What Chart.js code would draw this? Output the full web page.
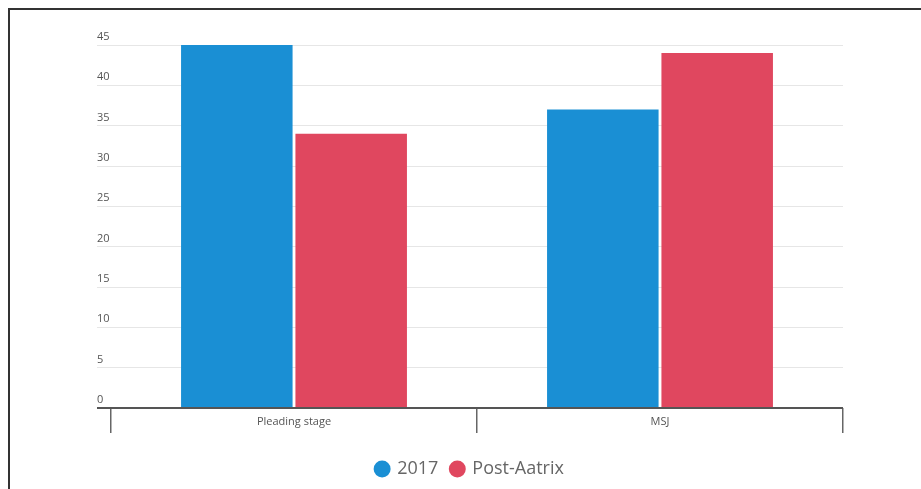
<!DOCTYPE html>
<html>
<head>
<meta charset="utf-8">
<script src="https://cdn.jsdelivr.net/npm/chart.js@4"></script>
<style>
  html, body { margin: 0; padding: 0; background: #fff; }
  #frame {
    position: absolute; left: 8px; top: 8px; width: 913px; height: 481px;
    border-top: 2px solid #333; border-left: 2px solid #333; box-sizing: border-box;
  }
  #wrap { position: absolute; left: 0; top: 0; width: 921px; height: 489px; }
</style>
</head>
<body>
<div id="frame"></div>
<div id="wrap"><canvas id="chart" width="921" height="489"></canvas></div>
<script>
const CATEGORIES = ['Pleading stage', 'MSJ']
const SERIES_NAMES = ['2017', 'Post-Aatrix']
const VALUES_2017 = [45, 37]
const VALUES_POST = [34, 44]
const Y_TICKS = [0, 5, 10, 15, 20, 25, 30, 35, 40, 45]

const BLUE = '#1a8fd4'
const RED = '#e0475f'
const FONT = '"Open Sans", "DejaVu Sans", sans-serif'

const ctx = document.getElementById('chart').getContext('2d');

new Chart(ctx, {
  type: 'bar',
  data: {
    labels: CATEGORIES,
    datasets: [
      { label: SERIES_NAMES[0], data: VALUES_2017, backgroundColor: BLUE },
      { label: SERIES_NAMES[1], data: VALUES_POST, backgroundColor: RED },
    ]
  },
  options: {
    responsive: false,
    animation: false,
    categoryPercentage: 0.625,
    barPercentage: 0.975,
    layout: {
      padding: { top: 45, left: 97, right: 78, bottom: 1 }
    },
    plugins: {
      tooltip: { enabled: false },
      legend: {
        position: 'bottom',
        labels: {
          usePointStyle: true,
          pointStyle: 'circle',
          boxWidth: 12,
          boxHeight: 12,
          padding: 13,
          color: '#666',
          font: { family: FONT, size: 18 }
        }
      }
    },
    scales: {
      x: {
        border: { display: false },
        grid: {
          offset: true,
          drawOnChartArea: false,
          drawTicks: true,
          tickLength: 25,
          color: '#666',
          lineWidth: 1.5,
        },
        ticks: {
          padding: -18,
          color: '#555',
          font: { family: FONT, size: 11 }
        },
        afterFit: (scale) => { scale.height = 39; }
      },
      y: {
        min: 0,
        max: 45,
        border: { display: false },
        afterBuildTicks: (scale) => {
          scale.ticks = Y_TICKS.map(v => ({ value: v }));
        },
        afterFit: (scale) => { scale.width = 14; },
        grid: {
          drawTicks: true,
          tickLength: 14,
          color: (c) => c.tick && c.tick.value === 0 ? '#555' : '#e6e6e6',
          lineWidth: (c) => c.tick && c.tick.value === 0 ? 2 : 1,
        },
        ticks: {
          crossAlign: 'far',
          padding: 0,
          labelOffset: -8,
          color: '#555',
          font: { family: FONT, size: 11 }
        }
      }
    }
  }
});
</script>
</body>
</html>
